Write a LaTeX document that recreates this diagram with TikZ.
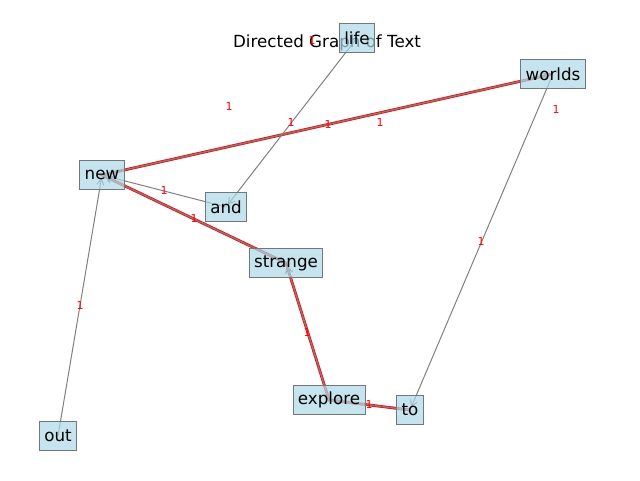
\documentclass[tikz,border=0pt]{standalone}
\usepackage{fontspec}
\setmainfont{DejaVu Sans}
\usetikzlibrary{arrows.meta,backgrounds}
\definecolor{boxblue}{RGB}{173,216,230}
\definecolor{boxedge}{RGB}{110,120,125}

\begin{document}
\begin{tikzpicture}[
x=1pt, y=-1pt,
word/.style = {shape=rectangle, draw=boxedge, line width=0.9pt, fill=boxblue, fill opacity=0.7, text opacity=1,
  text=black, inner xsep=5pt, minimum height=29pt, font=\fontsize{16.7}{18}\selectfont},
link/.style = {draw=gray, line width=1.3pt, -{Straight Barb[length=6pt,width=7pt]}, shorten >=3pt},
path/.style = {draw=red, line width=2.8pt},
weight/.style = {text=red, inner sep=0pt, font=\fontsize{11}{12}\selectfont},
]
  \useasboundingbox (0,0) rectangle (640,480);
  \node (title) at (327,43) {\fontsize{16.7}{18}\selectfont Directed Graph of Text};

  \node[word] (life) at (357,38) {life};
  \node[word] (worlds) at (553,74) {worlds};
  \node[word] (new) at (102,175) {new};
  \node[word] (and) at (226,207) {and};
  \node[word] (strange) at (286,263) {strange};
  \node[word] (explore) at (329,400) {explore};
  \node[word] (to) at (410,410) {to};
  \node[word] (out) at (58,436) {out};

  \begin{scope}[on background layer]
    % highlighted path
    \draw[path] (to.center) -- (explore.center) -- (strange.center) -- (new.center) -- (worlds.center);
    \draw[link] (to.center) -- (explore.center);
    \draw[link] (explore.center) -- (strange.center);
    \draw[link] (strange.center) -- (new.center);
    \draw[link] (new.center) -- (worlds.center);
    \draw[link, line width=1pt] (worlds.center) -- (to.center);
    \draw[link, line width=1pt] (life.center) -- (and.center);
    \draw[link, line width=1pt] (and.center) -- (new.center);
    \draw[link, line width=1pt] (out.center) -- (new.center);
  \end{scope}

  \node[weight] (w1) at (80,305) {1};
  \node[weight] (w2) at (481,241) {1};
  \node[weight] (w3) at (164,190) {1};
  \node[weight] (w4) at (194,218) {1};
  \node[weight] (w5) at (307,332) {1};
  \node[weight] (w6) at (369,404) {1};
  \node[weight] (w7) at (328,124) {1};
  \node[weight] (w8) at (291,122) {1};
  \node[weight] (w9) at (229,106) {1};
  \node[weight] (w10) at (380,122) {1};
  \node[weight] (w11) at (556,109) {1};
  \node[weight] (w12) at (312,40) {1};
\end{tikzpicture}
\end{document}
